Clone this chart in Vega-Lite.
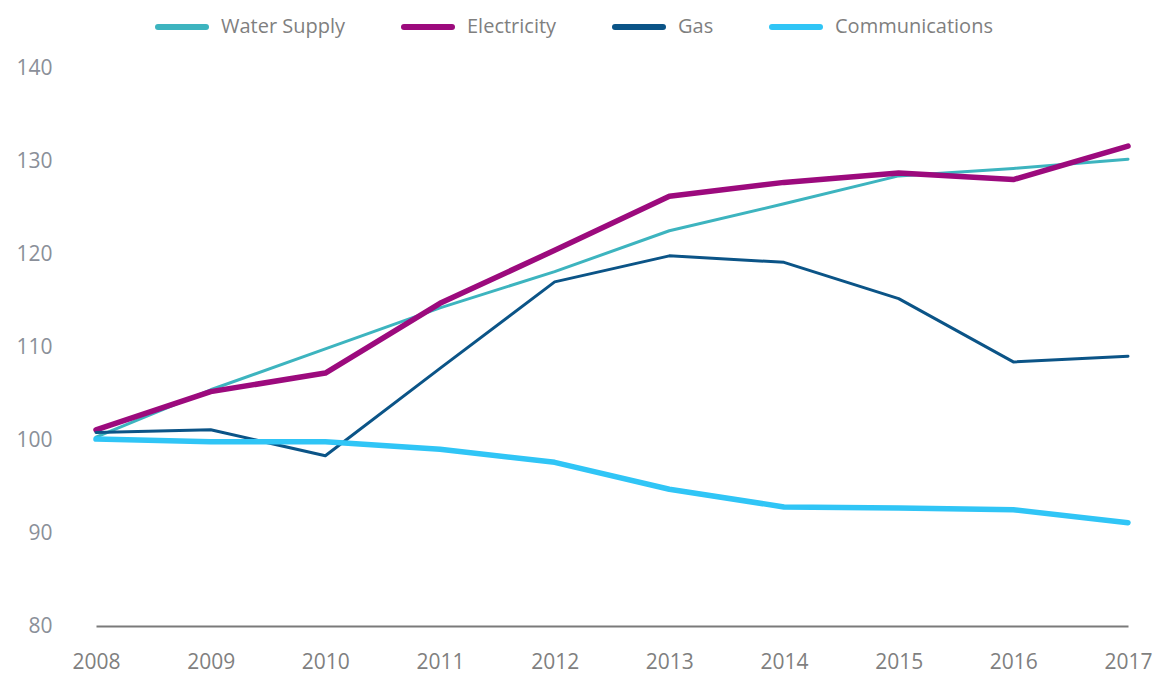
{
  "$schema": "https://vega.github.io/schema/vega-lite/v6.json",
  "width": 1032,
  "height": 558,
  "autosize": {"type": "none"},
  "padding": {"left": 96, "top": 68, "right": 35, "bottom": 47},
  "background": "white",
  "config": {
    "view": {"stroke": null},
    "font": "Open Sans"
  },
  "data": {
    "values": [
      {"year": 2008, "series": "Water Supply", "value": 100.3},
      {"year": 2009, "series": "Water Supply", "value": 105.4},
      {"year": 2010, "series": "Water Supply", "value": 109.8},
      {"year": 2011, "series": "Water Supply", "value": 114.2},
      {"year": 2012, "series": "Water Supply", "value": 118.1},
      {"year": 2013, "series": "Water Supply", "value": 122.5},
      {"year": 2014, "series": "Water Supply", "value": 125.4},
      {"year": 2015, "series": "Water Supply", "value": 128.4},
      {"year": 2016, "series": "Water Supply", "value": 129.2},
      {"year": 2017, "series": "Water Supply", "value": 130.2},
      {"year": 2008, "series": "Electricity", "value": 101.1},
      {"year": 2009, "series": "Electricity", "value": 105.2},
      {"year": 2010, "series": "Electricity", "value": 107.2},
      {"year": 2011, "series": "Electricity", "value": 114.7},
      {"year": 2012, "series": "Electricity", "value": 120.4},
      {"year": 2013, "series": "Electricity", "value": 126.2},
      {"year": 2014, "series": "Electricity", "value": 127.7},
      {"year": 2015, "series": "Electricity", "value": 128.7},
      {"year": 2016, "series": "Electricity", "value": 128.0},
      {"year": 2017, "series": "Electricity", "value": 131.6},
      {"year": 2008, "series": "Gas", "value": 100.8},
      {"year": 2009, "series": "Gas", "value": 101.1},
      {"year": 2010, "series": "Gas", "value": 98.3},
      {"year": 2011, "series": "Gas", "value": 107.7},
      {"year": 2012, "series": "Gas", "value": 117.0},
      {"year": 2013, "series": "Gas", "value": 119.8},
      {"year": 2014, "series": "Gas", "value": 119.1},
      {"year": 2015, "series": "Gas", "value": 115.2},
      {"year": 2016, "series": "Gas", "value": 108.4},
      {"year": 2017, "series": "Gas", "value": 109.0},
      {"year": 2008, "series": "Communications", "value": 100.1},
      {"year": 2009, "series": "Communications", "value": 99.8},
      {"year": 2010, "series": "Communications", "value": 99.8},
      {"year": 2011, "series": "Communications", "value": 99.0},
      {"year": 2012, "series": "Communications", "value": 97.6},
      {"year": 2013, "series": "Communications", "value": 94.7},
      {"year": 2014, "series": "Communications", "value": 92.8},
      {"year": 2015, "series": "Communications", "value": 92.7},
      {"year": 2016, "series": "Communications", "value": 92.5},
      {"year": 2017, "series": "Communications", "value": 91.1}
    ]
  },
  "mark": {"type": "line", "strokeCap": "round", "strokeJoin": "round"},
  "encoding": {
    "x": {
      "field": "year",
      "type": "quantitative",
      "scale": {"domain": [2008, 2017], "nice": false, "zero": false},
      "axis": {
        "title": null,
        "values": [2008, 2009, 2010, 2011, 2012, 2013, 2014, 2015, 2016, 2017],
        "format": "d",
        "grid": false,
        "ticks": false,
        "domainColor": "#7a7a7a",
        "domainWidth": 2,
        "labelColor": "#7f7f7f",
        "labelFontSize": 21,
        "labelPadding": 25,
        "labelFlush": false
      }
    },
    "y": {
      "field": "value",
      "type": "quantitative",
      "scale": {"domain": [80, 140], "nice": false, "zero": false},
      "axis": {
        "title": null,
        "values": [80, 90, 100, 110, 120, 130, 140],
        "grid": false,
        "ticks": false,
        "domain": false,
        "labelColor": "#8a8f99",
        "labelFontSize": 21,
        "labelPadding": 44
      }
    },
    "color": {
      "field": "series",
      "type": "nominal",
      "scale": {
        "domain": ["Water Supply", "Electricity", "Gas", "Communications"],
        "range": ["#3db4bf", "#9c0a7d", "#0b5487", "#30c5f6"]
      },
      "legend": {
        "title": null,
        "orient": "none",
        "direction": "horizontal",
        "legendX": 59,
        "legendY": -68,
        "symbolType": "stroke",
        "symbolSize": 2304,
        "symbolStrokeWidth": 6,
        "labelFontSize": 20,
        "labelColor": "#7f7f7f",
        "labelOffset": 12,
        "columnPadding": 46,
        "labelLimit": 300,
        "encode": {
          "symbols": {
            "update": {
              "strokeWidth": {"value": 6},
              "strokeCap": {"value": "round"}
            }
          }
        }
      }
    },
    "strokeWidth": {
      "condition": {
        "test": "datum.series === 'Electricity' || datum.series === 'Communications'",
        "value": 5.5
      },
      "value": 3
    },
    "order": {"field": "year"}
  }
}
